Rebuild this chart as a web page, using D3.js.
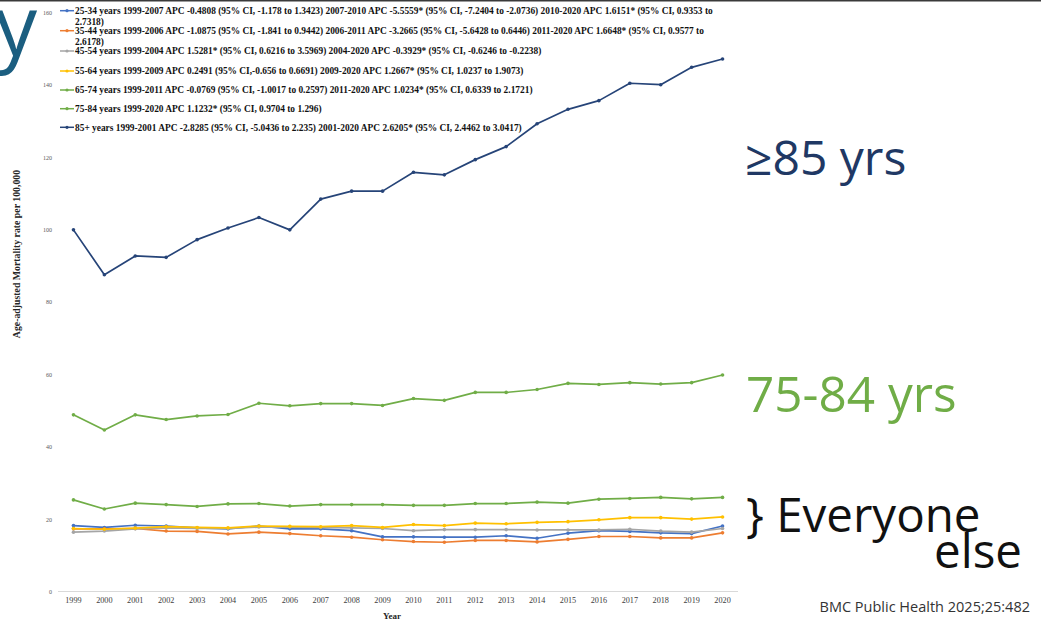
<!DOCTYPE html>
<html>
<head>
<meta charset="utf-8">
<script src="https://cdn.jsdelivr.net/npm/d3@7"></script>
<style>
  html, body { margin:0; padding:0; background:#fff; }
  svg { display:block; }
</style>
</head>
<body>
<div id="chart"></div>
<script>
// data
var years = ["1999","2000","2001","2002","2003","2004","2005","2006","2007","2008","2009","2010","2011","2012","2013","2014","2015","2016","2017","2018","2019","2020"];
var yTicks = [0,20,40,60,80,100,120,140,160];

var age2534 = [18.2,17.7,18.3,18.1,17.6,17.3,18.1,17.3,17.3,16.8,15.1,15.1,15.0,15.0,15.4,14.7,16.1,16.8,16.6,16.2,16.0,18.1];
var age3544 = [17.3,17.3,17.4,16.7,16.6,15.9,16.4,16.0,15.4,15.0,14.3,13.8,13.6,14.1,14.1,13.7,14.4,15.2,15.2,14.8,14.8,16.2];
var age4554 = [16.4,16.7,17.3,17.6,17.4,17.4,17.8,17.8,17.7,17.6,17.4,16.8,17.1,17.1,17.1,17.0,17.0,17.0,17.2,16.7,16.4,17.4];
var age5564 = [17.4,17.2,17.5,17.9,17.7,17.6,18.1,18.0,17.9,18.2,17.7,18.5,18.2,18.9,18.7,19.1,19.3,19.8,20.4,20.4,20.0,20.6];
var age6574 = [25.3,22.8,24.4,24.0,23.5,24.2,24.3,23.6,24.0,24.0,24.0,23.8,23.8,24.3,24.3,24.7,24.4,25.5,25.7,26.0,25.6,26.0];
var age7584 = [48.8,44.6,48.8,47.5,48.5,48.9,52.0,51.3,51.9,51.9,51.4,53.3,52.8,55.0,55.0,55.8,57.5,57.2,57.7,57.3,57.7,59.8];
var age85 = [99.9,87.5,92.7,92.3,97.2,100.4,103.3,99.9,108.4,110.6,110.6,115.8,115.1,119.3,122.9,129.2,133.2,135.6,140.4,140.0,144.8,147.1];

var legendLabels = [
  ["25-34 years 1999-2007 APC -0.4808 (95% CI, -1.178 to 1.3423) 2007-2010 APC -5.5559* (95% CI, -7.2404 to -2.0736) 2010-2020 APC 1.6151* (95% CI, 0.9353 to", "2.7318)"],
  ["35-44 years 1999-2006 APC -1.0875 (95% CI, -1.841 to 0.9442) 2006-2011 APC -3.2665 (95% CI, -5.6428 to 0.6446) 2011-2020 APC 1.6648* (95% CI, 0.9577 to", "2.6178)"],
  ["45-54 years 1999-2004 APC 1.5281* (95% CI, 0.6216 to 3.5969) 2004-2020 APC -0.3929* (95% CI, -0.6246 to -0.2238)"],
  ["55-64 years 1999-2009 APC 0.2491 (95% CI,-0.656 to 0.6691) 2009-2020 APC 1.2667* (95% CI, 1.0237 to 1.9073)"],
  ["65-74 years 1999-2011 APC -0.0769 (95% CI, -1.0017 to 0.2597) 2011-2020 APC 1.0234* (95% CI, 0.6339 to 2.1721)"],
  ["75-84 years 1999-2020 APC 1.1232* (95% CI, 0.9704 to 1.296)"],
  ["85+ years 1999-2001 APC -2.8285 (95% CI, -5.0436 to 2.235) 2001-2020 APC 2.6205* (95% CI, 2.4462 to 3.0417)"]
];
var legendRowY = [10.7, 30.7, 51, 71, 90, 108.7, 127.3];

var series = [
  {values: age2534, color: "#4472C4"},
  {values: age3544, color: "#ED7D31"},
  {values: age4554, color: "#A5A5A5"},
  {values: age5564, color: "#FFC000"},
  {values: age6574, color: "#70AD47"},
  {values: age7584, color: "#70AD47"},
  {values: age85,   color: "#264478"}
];

var width = 1041, height = 620;
var svg = d3.select("#chart").append("svg").attr("width", width).attr("height", height);
svg.append("rect").attr("width", width).attr("height", height).attr("fill", "#fff");

var x = d3.scaleBand().domain(years).range([58, 738]);
var y = d3.scaleLinear().domain([0, 160]).range([591.5, 12.3]);
var cx = function(d){ return x(d) + x.bandwidth()/2; };

// slide top edge
svg.append("line").attr("x1",0).attr("x2",width).attr("y1",0.8).attr("y2",0.8)
    .attr("stroke","#3a3a3a").attr("stroke-width",1.6);

// baseline at 0
svg.append("line").attr("x1",58).attr("x2",738).attr("y1",y(0)).attr("y2",y(0))
    .attr("stroke","#d9d9d9").attr("stroke-width",1);

// y tick labels
var yAxis = d3.axisLeft(y).tickValues(yTicks).tickSize(0).tickPadding(0);
var yg = svg.append("g").attr("transform","translate(52,0)").call(yAxis);
yg.select(".domain").remove();
yg.selectAll("text").attr("font-family","Liberation Serif").attr("font-size",6).attr("fill","#595959");

// x tick labels
var xAxis = d3.axisBottom(x).tickSize(0).tickPadding(0);
var xg = svg.append("g").attr("transform","translate(0,597)").call(xAxis);
xg.select(".domain").remove();
xg.selectAll("text").attr("font-family","Liberation Serif").attr("font-size",8.2).attr("fill","#404040");

svg.append("text").attr("x",392).attr("y",619).attr("text-anchor","middle")
    .attr("font-family","Liberation Serif").attr("font-weight","bold").attr("font-size",9)
    .attr("fill","#262626").text("Year");

svg.append("text").attr("transform","translate(20,254) rotate(-90)").attr("text-anchor","middle")
    .attr("font-family","Liberation Serif").attr("font-weight","bold").attr("font-size",9.8)
    .attr("fill","#262626").text("Age-adjusted Mortality rate per 100,000");

// series
var line = d3.line().x(function(d,i){ return cx(years[i]); }).y(function(d){ return y(d); });
series.forEach(function(s){
    var g = svg.append("g");
    g.append("path").datum(s.values).attr("d", line).attr("fill","none")
        .attr("stroke", s.color).attr("stroke-width",1.7).attr("stroke-linejoin","round");
    g.selectAll("circle").data(s.values).enter().append("circle")
        .attr("cx", function(d,i){ return cx(years[i]); })
        .attr("cy", function(d){ return y(d); })
        .attr("r", 1.8).attr("fill", s.color);
});

// legend
var lg = svg.append("g");
legendLabels.forEach(function(lines, i){
    var ly = legendRowY[i];
    lg.append("line").attr("x1",60).attr("x2",74).attr("y1",ly).attr("y2",ly)
        .attr("stroke", series[i].color).attr("stroke-width",1.5);
    lg.append("circle").attr("cx",67).attr("cy",ly).attr("r",1.6).attr("fill",series[i].color);
    lines.forEach(function(t, j){
        lg.append("text").attr("x",75).attr("y", ly + 3.2 + j*11.3)
            .attr("font-family","Liberation Serif").attr("font-weight","bold")
            .attr("font-size",9.4).attr("fill","#111").text(t);
    });
});

// slide annotations
var sans = "Open Sans";
svg.append("text").attr("x",-5).attr("y",56).attr("font-family",sans).attr("font-size",84)
    .attr("fill","#1B5E80").text("y");
svg.append("text").attr("x",745).attr("y",175).attr("font-family",sans).attr("font-size",48)
    .attr("fill","#203864").text("≥85 yrs");
svg.append("text").attr("x",746).attr("y",412).attr("font-family",sans).attr("font-size",49.5)
    .attr("fill","#70AD47").text("75-84 yrs");
var ev = svg.append("text").attr("font-family",sans).attr("font-size",47.5).attr("fill","#111");
ev.append("tspan").attr("x",746).attr("y",532).text("} Everyone");
ev.append("tspan").attr("x",934).attr("y",568).text("else");
svg.append("text").attr("x",1030).attr("y",612).attr("text-anchor","end").attr("font-family",sans)
    .attr("font-size",14.5).attr("fill","#333").text("BMC Public Health 2025;25:482");
</script>
</body>
</html>
